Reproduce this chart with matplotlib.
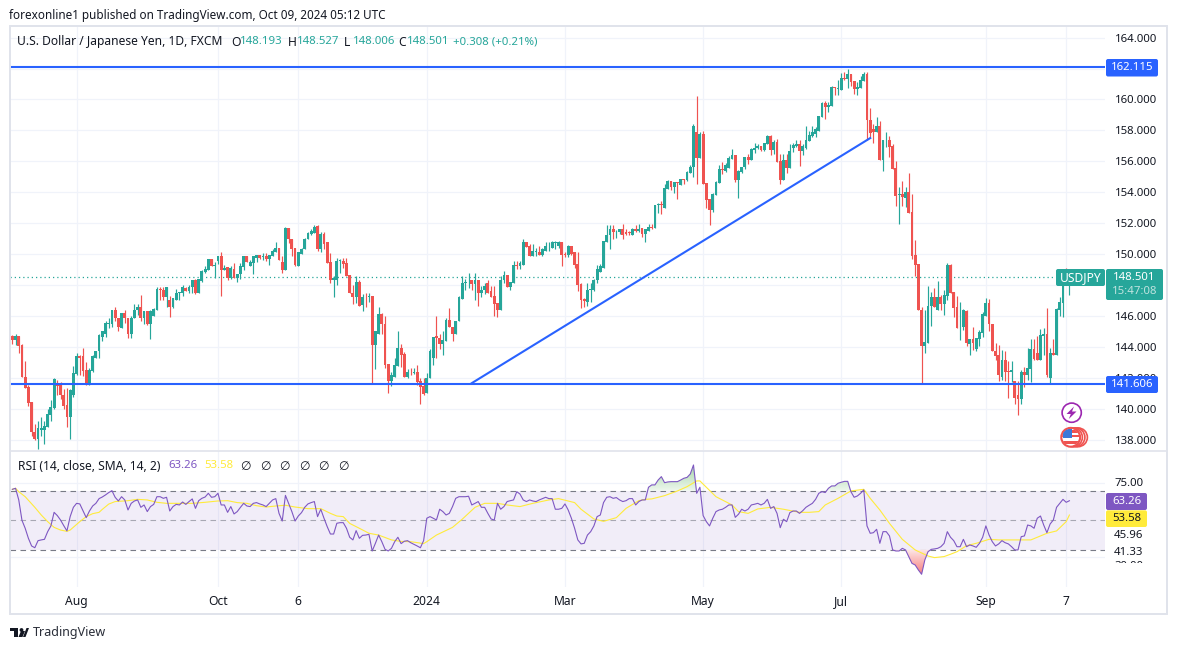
import numpy as np
import matplotlib
matplotlib.use("Agg")
import matplotlib.pyplot as plt
from matplotlib.patches import FancyBboxPatch, Circle, Polygon, Rectangle
from matplotlib.path import Path
from matplotlib.transforms import Bbox

plt.rcParams['font.family'] = ['Noto Sans', 'DejaVu Sans']

opens = [
144.67,144.43,144.67,144.1,142.05,141.38,140.4,138.5,138.02,138.65,
138.65,138.8,139.6,140.05,141.55,141.5,140.9,140.25,139.45,140.85,
142.25,143.4,143.4,142.5,141.6,142.45,143.3,143.7,144.65,144.85,
145.5,145.5,146.35,145.85,145.2,146.2,145.85,144.8,145.85,146.35,
146.55,145.85,146.3,145.5,146,146.4,147.75,147.7,147.25,147,
146.55,147.05,147.5,147.5,147.8,147.6,147.85,148.35,147.5,148.25,
148.85,149,149.65,149.25,149.55,149.9,148.95,149.15,148.45,149.05,
148.45,148.7,149.15,149.85,149.25,149.45,149.75,149.95,149.8,149.85,
149.65,149.9,150.15,150.4,149.5,149,151.7,151,150.4,149.25,
150,150.3,150.95,151.3,151.35,151.8,150.35,151.3,150.75,149.5,
148.35,148.35,149.55,149.55,149.4,148.65,147.5,147.2,148.2,146.7,
147.25,147.2,147.3,144.1,144.85,146.15,145.5,142.9,141.8,142.05,
142.75,143.9,143.55,142.05,142.4,142.3,142.4,141.8,141.45,141,
141.95,143.25,144.7,144.6,144.2,144.4,145.75,145.3,144.85,145.65,
147.1,148.15,148.18,148.3,148.05,148.3,147.45,147.65,148.1,147.6,
147.3,146.85,146.35,148.35,148.65,147.9,148.15,149.3,149.2,149.3,
150.8,150.5,149.85,150.15,150.15,149.95,150.2,150.5,150.4,150.7,
150.5,150.75,150,149.95,150.55,150.1,149.35,148.05,147.1,146.9,
147.65,147.7,148.3,148.85,149.1,150.8,151.2,151.65,151.4,151.4,
151.6,151.4,151.4,151.2,151.65,151.5,151.7,151.3,151.5,151.75,
151.7,153.2,153.25,153,154.2,154.75,154.35,154.65,154.45,154.85,
154.8,155.25,155.6,157.9,156.2,157.75,154.6,153.55,152.85,153.85,
154.6,155.5,155.4,155.55,156.15,156.4,154.8,155.3,155.6,156.3,
156.1,156.7,156.85,157,156.7,157.1,157.65,156.75,157.25,156,
154.8,156.1,155.55,156.85,157,157.1,156.65,156.85,157.3,157.65,
157.75,157.95,158.85,159.75,159.5,159.57,160.8,160.7,160.6,161.4,
161.3,161.65,161.2,160.7,160.75,161.2,161.65,158.7,158.1,157.9,
158.3,156.1,157.35,157.4,157,155.55,153.8,153.9,153.65,154,
152.7,149.95,149.35,146.4,144.05,144.25,146.65,147.25,146.4,147.25,
146.8,147.3,149.3,147.55,146.55,145.25,145.25,146.3,144.15,144.5,
143.85,144.5,144.9,146,146.85,145.5,143.75,143.5,142.05,143.15,
142.45,142.4,141.8,140.85,140.6,142.4,142.2,142.55,143.85,143.6,
143.15,144.7,144.85,142,143.6,143.5,146.4,146.85,148.55,148.193]

highs = [
144.75,144.8,144.67,144.2,143.05,141.5,140.4,139,139.2,139.45,
139.2,140,140.55,142,141.85,141.75,141.25,141.35,141.25,142.75,
143.6,143.5,143.9,143,142.6,143.5,143.75,144.8,145.05,145.65,
145.85,146.4,146.6,145.85,146.2,146.4,145.85,146,146.75,146.75,
147.35,146.3,146.3,146.4,146.5,147.85,147.85,147.9,147.9,147.3,
147.15,147.75,147.57,148,147.85,148,148.35,148.4,148.4,149,
149.2,149.7,149.65,149.5,149.9,150.15,149.3,149.15,149.25,149.4,
148.7,149.4,149.85,149.85,149.6,149.9,149.95,149.95,150.05,150.05,
149.95,150.35,150.8,150.4,149.9,151.75,151.7,151,150.4,150.1,
150.4,151.05,151.4,151.6,151.9,151.85,151.45,151.4,150.8,150.05,
148.6,149.75,149.7,149.75,149.75,148.65,148,148.55,148.35,147.4,
147.45,147.5,147.3,145,146.6,146.2,146,142.9,142.4,143.3,
145,144.15,143.65,142.55,142.65,142.65,142.85,141.95,141.95,142.3,
143.85,144.65,146,144.85,145,145.85,146.5,145.3,145.65,147.3,
148.55,148.4,148.8,148.35,148.75,148.3,147.95,148.15,148.35,147.95,
147.95,146.85,148.6,148.9,148.65,148.2,149.55,149.55,149.55,150.95,
150.8,150.65,150.65,150.4,150.55,150.4,150.75,150.75,150.85,150.85,
150.85,150.75,150.1,150.6,150.55,150.1,150.1,148.15,147.15,148.1,
148.1,148.4,149.3,149.35,150.85,151.85,151.85,151.9,151.55,151.65,
151.95,151.6,151.5,151.7,151.9,151.95,151.7,151.65,151.95,151.95,
153.2,153.3,153.4,154.5,154.8,154.75,154.65,154.68,154.85,154.85,
155.4,155.75,158.4,160.2,157.9,157.95,154.6,153.55,153.95,154.75,
155.75,155.95,155.9,156.35,156.8,156.4,155.45,155.65,156.3,156.45,
156.85,157.2,157.1,157,157.2,157.7,157.7,157.4,157.45,156.45,
156.45,156.45,157.1,157.2,157.4,157.4,157.1,158.3,157.95,158.3,
158.2,158.9,159.85,159.9,159.85,160.85,160.8,161.25,161.7,161.75,
161.95,161.65,161.2,161.1,161.5,161.75,161.75,159.45,158.4,158.85,
158.6,157.4,157.9,157.65,157.1,156,154.35,154.75,154.35,155.25,
153.9,150.9,149.35,146.6,146.4,147.95,147.55,147.8,148.25,147.35,
147.7,149.4,149.35,147.55,147.3,146.9,146.45,146.4,144.5,145.25,
144.55,145.1,146.25,147.15,147.1,145.5,144.25,144.1,143.8,143.75,
143.1,143.1,141.8,141.8,142.5,142.7,143.95,144.5,144.5,144.7,
145.15,145.2,146.5,143.95,144.5,146.5,147.2,148.3,149.08,148.527]

lows = [
144.2,144.1,143.57,142.05,141.33,140.2,138.25,138,137.4,138.25,
137.7,138.8,139.2,140,140.85,140.6,139.95,138.8,138.05,140.75,
142.2,142.2,142.1,141.55,141.55,142.4,143.3,143.3,144.4,144.65,
145.2,145.25,145.65,145,145.2,145.55,144.6,144.6,145.85,146.05,
145.7,145.5,145.4,144.5,146,146.4,147,147.05,146.6,145.95,
146.5,147.05,147.05,147.3,147.6,147.5,147.5,147.4,147.5,148.2,
148.75,148.95,149.2,148.45,149.35,147.3,148.95,148.3,148.4,148.45,
148.2,148.4,149,149.5,149.25,148.7,149.5,149.7,149.6,149.55,
149.3,149.9,150.15,149.6,148.8,149,150.7,149.9,149.2,149.25,
150,150.3,150.95,151.25,151.35,150.2,150.1,150.35,149.4,148.15,
147.2,148,148.8,149.1,148.55,147.45,146.75,146.85,146.65,146.3,
146.6,146.9,141.65,142.55,144.85,144.8,142.65,141,141.45,142.05,
142.75,142.7,142.05,141.95,142.2,142.25,141.55,140.3,140.85,141,
141.95,142.85,143.25,143.85,143.45,144.4,145.25,144.4,144.85,145.65,
147.1,147.7,147.8,147.7,147,146.65,147.2,147.4,147.45,147.2,
146,145.9,146.35,148.1,147.85,147.7,148.15,149.05,149.05,149.3,
150.45,149.85,149.85,149.9,149.95,149.9,150.2,150.2,150.4,150.35,
150.4,149.25,149.8,149.8,149.95,149.1,147.6,146.5,146.55,146.65,
146.9,147.6,148.1,148.85,149.1,150.8,150.3,151,151.05,151.3,
151,151.2,151.2,151.2,151.45,151.45,151.1,150.8,151.5,151.65,
151.7,152.65,152.6,153,154.2,154.15,153.95,153.55,154.45,154.55,
154.75,155.25,155,154.55,156.2,154.55,153,151.9,152.75,153.85,
154.6,155.2,155.3,155.55,156.15,154.65,153.65,155.25,155.5,155.85,
156.1,156.55,156.8,156.65,156.65,157.1,156.4,156.5,155.95,154.55,
154.8,155.25,155.55,156.6,156.9,155.7,156.4,156.8,157.3,157.55,
157.55,157.95,158.85,158.75,159.2,159.57,160.3,160.3,160.6,161.25,
160.75,160.9,160.35,160.3,160.75,161.2,157.4,157.5,157.2,157.9,
156.1,155.4,156.9,156.3,155.5,153.1,151.95,153.1,153.05,152.65,
149.65,148.55,146.4,141.65,143.6,144.25,145.35,146.6,146.4,146.4,
146.05,147,147.5,145.95,145.2,144.45,145.1,144.05,143.5,143.8,
143.75,144.05,144.65,146,145,143.7,143.15,141.8,141.85,141.8,
140.7,141.75,140.3,139.6,140.3,141.4,141.85,141.75,143.15,143.15,
143.15,143.5,142.05,141.65,143.5,143.5,146,145.95,148,147.35]

closes = [
144.43,144.67,144.05,142.05,141.33,140.35,138.5,138.02,138.72,138.72,
138.85,139.63,140.1,141.9,141.45,140.85,140.2,139.45,141.2,142.3,
143.4,143.3,142.45,141.6,142.5,143.4,143.75,144.75,145,145.55,
145.55,146.35,145.85,145.3,146.2,145.85,144.8,145.85,146.4,146.55,
145.85,146.3,145.5,146.3,146.45,147.75,147.7,147.25,147.85,146.55,
147.15,147.5,147.52,147.85,147.6,147.9,148.35,147.5,148.4,148.9,
149.05,149.65,149.25,149.3,149.9,148.95,149.1,148.45,149.1,148.45,
148.7,149.2,149.85,149.5,149.5,149.85,149.95,149.75,149.85,149.65,
149.95,150.2,150.4,149.6,149,151.7,150.95,150.35,149.3,150.1,
150.35,151,151.35,151.5,151.75,150.35,151.3,150.65,149.45,148.35,
148.45,149.55,149.57,149.35,148.6,147.45,147.2,148.2,146.65,147.2,
147.2,147.3,144.1,145,146.15,145.45,142.85,141.8,142.15,142.8,
143.9,143.5,142.05,142.4,142.35,142.4,141.75,141.4,140.95,142,
143.75,144.65,144.6,144.2,144.45,145.75,145.25,144.85,145.65,147.2,
148.15,148.2,148.2,148.05,148.3,147.45,147.7,147.95,147.45,147.2,
146.8,146.4,148.35,148.65,147.9,148.2,149.3,149.2,149.45,150.8,
150.45,149.85,150.2,150.2,149.95,150.3,150.55,150.55,150.75,150.75,
150.75,149.95,149.95,150.55,150,149.3,148,147.03,146.95,147.7,
147.75,148.35,149,149.2,150.85,151.25,151.65,151.4,151.45,151.6,
151.25,151.3,151.35,151.65,151.5,151.65,151.3,151.65,151.75,151.7,
153.2,153.25,153.2,154.3,154.75,154.35,154.65,154.6,154.85,154.8,
155.3,155.65,158.3,156.2,157.75,154.55,153.5,152.85,153.9,154.65,
155.5,155.45,155.75,156.2,156.4,154.8,155.4,155.65,156.3,156.1,
156.8,156.85,157,156.75,157.2,157.65,156.75,157.25,155.95,154.8,
156.1,155.55,156.65,157.05,157.1,156.65,157,157.4,157.7,157.9,
158.1,158.9,159.75,159.5,159.65,160.8,160.75,160.75,161.4,161.3,
161.65,161.1,160.65,160.8,161.25,161.65,158.65,157.85,157.9,158.3,
156.1,157.4,157.4,156.95,155.5,153.75,153.9,153.7,154,152.65,
149.9,149.3,146.4,144.05,144.3,146.65,147.25,146.6,147.25,146.8,
147.35,149.3,147.5,146.5,145.2,145.3,146.4,144.25,144.5,144.25,
144.55,144.95,146.1,146.85,145.5,143.7,143.4,142.2,143.15,142.4,
142.4,142.5,140.7,140.65,142.4,142.2,142.65,143.85,143.2,143.15,
144.75,144.85,142.15,143.6,143.5,146.45,146.9,148.05,148.2,148.501]

rsi_values = [
71.0,71.7,63.8,50,44.6,37.8,32.6,31.4,36.2,36.7,37.1,42.3,46.2,55.4,53.2,50.2,46.4,42.8,52.5,58.8,
61.5,61.1,56.5,51.8,56.3,59.7,61.5,64.7,65.8,67.2,68.8,70.1,65.6,63.1,66,63.8,57,61.5,63.1,63.8,
58.8,60.4,55.9,59.3,60.8,66,66,64.9,65.6,56.3,59.3,60.8,60.4,62.4,60.8,62.7,64.5,58.1,63.3,64.9,
65.8,68.3,65.6,66,68.3,60.4,60.4,55.4,59.3,54.3,55.9,58.8,61.5,59.7,59.3,61.5,62,61.1,60.4,59.3,
61.5,63.8,64.7,54.7,49.5,66.9,61.5,55.9,49.5,52.9,55.2,58.8,61.1,62,62.7,52.5,57.5,51.4,45.7,40.7,
40.7,48,48.4,48.4,44.6,38.5,36.7,43,37.8,39.8,40,40.5,29.2,34.4,40,35.5,30.3,29.2,31,35.5,
38.5,34.2,35.8,36.2,34.8,33.7,32.6,31.4,36.2,51.4,52.5,51.4,50.2,57.5,55.9,53.6,54.7,59.3,64.9,66,
66,66,66.3,60.4,61.5,62.7,58.8,58.8,54.7,50.9,50.2,61.5,57.5,59.3,62.7,63.3,63.8,69.4,67.8,63.8,
62.7,63.8,63.1,62.7,63.8,64.7,65.6,64.7,64.7,57.5,57.5,58.1,61.1,57,51.4,44.6,36.7,34,34.4,40,
42.3,46.2,52.5,53.6,62,65.6,66,64.9,65.4,63.8,62.7,63.3,64.7,64.7,60.4,62.7,63.8,63.8,72.4,74,
74,77.3,79.6,75.5,76,76.2,76.2,76.2,77.3,78.5,79.1,81.4,87.5,68.3,72.4,53.2,49.1,46.2,51.4,55.9,
57,57.5,58.8,60.4,60.4,52,54.1,57.5,56.3,57.5,60.4,60.9,61.5,60.4,61.5,64.2,58.1,59.3,54.7,45,
50.7,49.1,55.2,56.3,56.3,54.7,56.5,58.8,60.2,61.5,64.2,68.3,69.4,68.8,71.7,73.3,73.3,75.1,75.8,76.4,
76.4,69.4,65.6,66.5,68.3,70.6,46.2,41.2,41.6,43.9,34.4,42.3,42.3,39.4,29.9,29.2,29.2,31,29.9,25.4,
20.8,19.7,16.3,13.4,23.1,28.7,30.3,30.6,31,32.1,34.4,42.3,38.5,36.2,32.1,32.1,37.1,32.1,33.3,32.6,
31.7,34.4,38.5,46.2,40,35.5,32.6,34,36.2,34.8,34,32.1,29.9,29.9,38.9,39.4,46.8,46.2,44.6,51.4,
52.9,46.8,41.6,47.5,50.2,58.8,61.5,64.2,62.2,63.26]

sma_bars = [0,1,2,4,7,9,11,13,15,17,18,21,23,25,27,28,30,32,36,39,42,45,48,52,56,60,64,67,70,73,76,79,82,85,88,92,96,99,101,103,105,108,111,114,118,121,124,128,129,132,137,140,144,147,151,154,158,162,167,170,175,177,181,184,188,191,195,197,199,203,207,210,213,214,216,219,224,226,229,232,236,240,245,248,251,253,257,261,265,267,270,273,277,281,285,287,290,292,294,297,300,304,307,311,317,319,322,325,328,329]
sma_values = [71.0,71.7,69.4,66,58.8,53.6,49.1,45.2,43.4,42.5,43.4,49.1,52.5,54.5,55.4,57.4,61,62.7,63.3,64.2,63.8,62.2,61.5,61.5,61.5,62.2,63.1,63.3,62,61.5,59.9,59,59.7,60.2,59,57.9,57.9,54.7,52.9,52.5,47.9,44.6,41.2,40,36.7,35.7,35.5,34.2,35.5,40,45.2,50.7,58.8,61.5,61.5,60.4,59.3,61.5,63.8,64.7,62,57.5,50.9,49.3,51.8,58.1,63.3,64.2,64.5,66.7,69.9,72.8,76.7,76.7,72.4,66,60.4,55.9,54.7,57.7,58.8,57.5,55.4,55.4,55.9,60.4,64.9,69.9,71,64.9,57,47.9,37.1,29.9,25.8,24.7,25.4,27,28.7,32.8,34.4,37.1,36.7,36.7,36.7,38.5,41.2,42.8,49.1,53.58]

price_ticks = [138,140,142,144,146,148,150,152,154,156,158,160,162,164]
hidden_price_labels = [148,162]
time_tick_bars = [20,64,89,129,172,215,258,303,328]
time_tick_labels = ['Aug','Oct','6','2024','Mar','May','Jul','Sep','7']
resistance, support, last_price = 162.115, 141.606, 148.501
trend_bars, trend_prices = [143,267], [141.65,157.5]

GREEN, RED, BLUE, GRID, BORDER, TEXT, PURPLE, YEL = '#26a69a','#ef5350','#2962ff','#f0f3fa','#e0e3eb','#131722','#7e57c2','#ffeb3b'
NUM = 8.2
W, H = 1177, 650
fig = plt.figure(figsize=(W/100, H/100), dpi=100, facecolor='white')
def pane(l, t, r, b):
    return fig.add_axes([l/W, 1-b/H, (r-l)/W, (b-t)/H])

X0, DX = 12.33, 3.213
xlim = ((10-X0)/DX, (1105-X0)/DX)
ax = pane(10, 27, 1105, 450)
rs = pane(10, 451, 1105, 587)
p = lambda y: 164-(y-37.6)/15.46
r = lambda y: 50-(y-520.3)/1.475
bars = np.arange(len(closes))
o, h, l, c = map(np.array, (opens, highs, lows, closes))
up = c >= o
colors = np.where(up, GREEN, RED)
ax.vlines(bars, l, h, colors=colors, lw=0.85, zorder=3)
ax.bar(bars, np.maximum(np.abs(c-o), 0.04), bottom=np.minimum(o, c), width=0.88, color=colors, lw=0, zorder=3)
ax.axhline(last_price, color=GREEN, lw=0.9, ls=(0, (1, 2.4)), zorder=2)
ax.axhline(resistance, color=BLUE, lw=1.5, zorder=4)
ax.axhline(support, color=BLUE, lw=1.5, zorder=4)
ax.plot(trend_bars, trend_prices, color=BLUE, lw=1.5, zorder=4)
ax.set_xlim(*xlim); ax.set_ylim(p(450), p(27))
ax.set_yticks(price_ticks, ['' if t in hidden_price_labels else f'{t:.3f}' for t in price_ticks])
ax.yaxis.tick_right()
ax.tick_params(axis='y', length=0, pad=7, labelsize=NUM, labelcolor=TEXT)
ax.set_xticks(time_tick_bars); ax.tick_params(axis='x', length=0, labelbottom=False)
ax.grid(True, color=GRID, lw=0.9); ax.set_axisbelow(True)
for s in ax.spines.values(): s.set_visible(False)

rsi = np.array(rsi_values)
rs.axhspan(30, 70, color=PURPLE, alpha=0.1, lw=0, zorder=1)
for v in (70, 50, 30):
    rs.axhline(v, color='#787b86', lw=0.8, ls=(0, (5, 4)), zorder=2, alpha=1 if v != 50 else 0.6)
for v in (75, 25):
    rs.axhline(v, color=GRID, lw=0.9, zorder=0)
def grad(mask_poly, top, bottom, cmap_cols):
    g = np.linspace(1, 0, 64).reshape(-1, 1)
    from matplotlib.colors import LinearSegmentedColormap as L
    im = rs.imshow(g, extent=(xlim[0], xlim[1], bottom, top), aspect='auto', cmap=L.from_list('g', cmap_cols), zorder=2)
    im.set_clip_path(Path.make_compound_path(*mask_poly.get_paths()), transform=rs.transData)
pg = rs.fill_between(bars, 70, rsi, where=rsi > 70, interpolate=True, color='none')
pr = rs.fill_between(bars, 30, rsi, where=rsi < 30, interpolate=True, color='none')
grad(pg, rsi.max(), 70, ['#eef7ee', '#a5d6a7'])
grad(pr, 30, rsi.min(), ['#f77f7f', '#fde8e8'])
rs.plot(bars, rsi, color=PURPLE, lw=0.8, zorder=4)
rs.plot(sma_bars, sma_values, color=YEL, lw=0.8, zorder=3)
rs.set_xlim(*xlim); rs.set_ylim(r(587), r(451))
rs.set_yticks([])
rs.set_xticks(time_tick_bars, time_tick_labels)
rs.tick_params(axis='x', length=0, pad=6, labelsize=8.7, labelcolor=TEXT)
for lab in rs.get_xticklabels():
    if lab.get_text() == '2024': lab.set_fontweight('bold')
rs.grid(True, axis='x', color=GRID, lw=0.9); rs.set_axisbelow(True)
for s in rs.spines.values(): s.set_visible(False)

# page furniture, in pixel coordinates
ov = fig.add_axes([0, 0, 1, 1], zorder=10); ov.set_xlim(0, W); ov.set_ylim(H, 0); ov.axis('off'); ov.patch.set_alpha(0)
ov.add_patch(Rectangle((9.5, 26), 1157, 588, fill=False, ec=BORDER, lw=1.4))
ov.plot([10, 1166], [450.5, 450.5], color=BORDER, lw=1.2)
def T(x, y, s, color=TEXT, size=8.7, ha='left', **k):
    return ov.text(x, y, s, color=color, fontsize=size, ha=ha, va='center', **k)
def tag(x0, y0, x1, y1, col):
    ov.add_patch(FancyBboxPatch((x0+2, y0+2), x1-x0-4, y1-y0-4, boxstyle='round,pad=2,rounding_size=2', fc=col, ec='none'))
T(9, 15, 'forexonline1 published on TradingView.com, Oct 09, 2024 05:12 UTC', size=8.45)
T(17, 42, 'U.S. Dollar / Japanese Yen, 1D, FXCM')
for x, letter, val in ((231,'O','148.193'),(288,'H','148.527'),(344,'L','148.006'),(398,'C','148.501')):
    T(x, 42, letter); T(x+9, 42, val, color=GREEN, size=NUM)
T(453, 42, '+0.308 (+0.21%)', color=GREEN, size=NUM)
T(18, 466, 'RSI (14, close, SMA, 14, 2)')
T(168, 466, '63.26', color=PURPLE, size=NUM); T(204.5, 466, '53.58', color=YEL, size=NUM)
for x in (245, 265, 284.5, 304, 323.5, 343):
    T(x, 466, '∅', ha='center')
tag(1106, 59, 1158, 76.5, BLUE);  T(1132, 67.3, '162.115', color='white', ha='center', size=NUM)
tag(1106, 376, 1158, 393, BLUE);  T(1132, 384.2, '141.606', color='white', ha='center', size=NUM)
tag(1056, 269, 1105, 286, GREEN); T(1080.5, 277.3, 'USDJPY', color='white', ha='center')
tag(1106, 269, 1163, 300, GREEN)
T(1134.5, 277.3, '148.501', color='white', ha='center', size=NUM); T(1134.5, 291.5, '15:47:08', color='#bfe3df', ha='center', size=NUM)
tag(1106, 493, 1147, 510, PURPLE); T(1126.5, 501.3, '63.26', color='white', ha='center', size=NUM)
tag(1106, 510.3, 1147, 527, YEL);  T(1126.5, 518.5, '53.58', ha='center', size=NUM)
T(1114, 483, '75.00', size=NUM); T(1114, 535.7, '45.96', size=NUM); T(1114, 552.7, '41.33', size=NUM)
t30 = T(1114, 566.5, '30.00', size=NUM)
t30.set_clip_on(True); t30.set_clip_box(Bbox([[1100, H-562.5], [1160, H-555]]))
# event icons
ov.add_patch(Circle((1071.7, 412.7), 9.6, fc='white', ec='#9c27b0', lw=1.2))
ov.add_patch(Polygon([(1074,406.5),(1066.5,414),(1070.8,414),(1068.8,419),(1076.5,411.5),(1072,411.5)], fc='#9c27b0', ec='none'))
for cx in (1078, 1075.5, 1073):
    ov.add_patch(Circle((cx, 437.3), 9.4, fc='white', ec=RED, lw=1.2))
disc = Circle((1070.7, 437.3), 9.4, fc='white', ec=RED, lw=1.5)
ov.add_patch(disc)
for x0, y0, w, ht, col in ((1061,430,19,2.5,'#ef5350'),(1061,434.5,19,2.5,'#ef5350'),(1061,440.5,19,3,'#ef5350'),(1063,428.5,9,9,'#3b78d8')):
    pt = Rectangle((x0, y0), w, ht, fc=col, ec='none')
    ov.add_patch(pt)
    pt.set_clip_path(Circle((1070.7, 437.3), 8.6, transform=ov.transData))
# footer
ov.add_patch(Rectangle((10, 628), 8, 3, fc=TEXT, ec='none'))
ov.add_patch(Rectangle((13.5, 628), 4.5, 9, fc=TEXT, ec='none'))
ov.add_patch(Circle((21.5, 630), 1.9, fc=TEXT, ec='none'))
ov.add_patch(Polygon([(23,637),(26.5,628),(29,628),(25.5,637)], fc=TEXT, ec='none'))
ov.add_patch(Polygon([(18.5,637),(21,631),(25,631),(22.5,637)], fc=TEXT, ec='none'))
T(33, 632.5, 'TradingView', size=9.0, color='#2a2e39')

fig.savefig('out.png', dpi=100, facecolor='white')
